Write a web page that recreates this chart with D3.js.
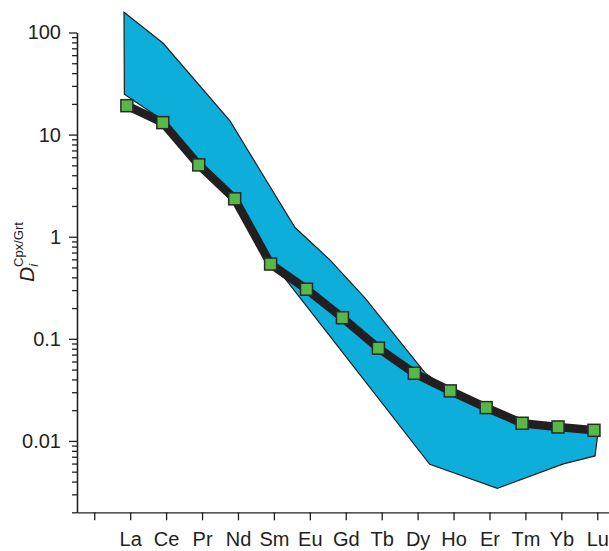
<!DOCTYPE html>
<html>
<head>
<meta charset="utf-8">
<script src="https://cdn.jsdelivr.net/npm/d3@7"></script>
<style>
  body { margin: 0; background: #fff; }
  svg { display: block; font-family: "Liberation Sans", Arial, sans-serif; }
</style>
</head>
<body>
<svg id="chart" width="609" height="551"></svg>
<script>
const elements = ["La", "Ce", "Pr", "Nd", "Sm", "Eu", "Gd", "Tb", "Dy", "Ho", "Er", "Tm", "Yb", "Lu"];
const dCpxGrt = [19.2, 13.1, 5.05, 2.35, 0.54, 0.306, 0.161, 0.081, 0.046, 0.0309, 0.0212, 0.0149, 0.0137, 0.0127];

// outline of the shaded field, clockwise from the top at La (La = 1 ... Lu = 14)
const bandPos = [0.92, 2.01, 3.87, 5.68, 6.65, 7.63, 9.16, 9.3, 10, 11, 12, 13, 14, 14.12,
                 14.03, 13.15, 11.31, 9.43, 5.04, 4, 3, 2, 0.93];
const bandVal = [158, 78.5, 13.6, 1.23, 0.593, 0.25, 0.0534, 0.0464, 0.0309, 0.0212, 0.0149, 0.0137, 0.0127, 0.0128,
                 0.00713, 0.00596, 0.00344, 0.00591, 0.566, 2.5, 5.3, 13.8, 24.9];

const majorTicks = [100, 10, 1, 0.1, 0.01];
const minorMult = [2, 3, 4, 5, 6, 7, 8, 9];

const ink = "#231f20";
const svg = d3.select("#chart");

const x = d3.scaleLinear()
    .domain([-0.48, 14.6])
    .range([77, 77 + 15.08 * 35.93]);

const y = d3.scaleLog()
    .domain([0.002, 100])
    .range([512.3, 32.5]);

// minor ticks, every 2..9 in each decade inside the domain
const minorTicks = [];
[0.001, 0.01, 0.1, 1, 10].forEach(dec => {
    minorMult.forEach(m => {
        const v = m * dec;
        if (v >= 0.002 && v < 100) minorTicks.push(v);
    });
});

// shaded field + line + squares
const marks = svg.append("g").attr("transform", "translate(-3.3,0)");

const band = bandPos.map((p, i) => [x(p), y(bandVal[i])]);
marks.append("path")
    .attr("d", "M" + band.join("L") + "Z")
    .attr("fill", "#0eaedb")
    .attr("stroke", ink)
    .attr("stroke-width", 1.2)
    .attr("stroke-linejoin", "miter");

const pts = dCpxGrt.map((v, i) => ({ pos: i + 1, v: v }));

marks.append("path")
    .datum(pts)
    .attr("d", d3.line().x(d => x(d.pos)).y(d => y(d.v)))
    .attr("fill", "none")
    .attr("stroke", ink)
    .attr("stroke-width", 8.5);

const sq = 12;
marks.selectAll("rect.pt")
    .data(pts)
    .join("rect")
    .attr("class", "pt")
    .attr("x", d => x(d.pos) - sq / 2)
    .attr("y", d => y(d.v) - sq / 2)
    .attr("width", sq)
    .attr("height", sq)
    .attr("fill", "#57b847")
    .attr("stroke", "#2a2a2a")
    .attr("stroke-width", 1.5);

// y axis
svg.append("g")
    .attr("transform", `translate(${x(-0.48)},0)`)
    .call(d3.axisLeft(y).tickValues(minorTicks).tickSize(5).tickSizeOuter(0).tickFormat(""));

svg.append("g")
    .attr("transform", `translate(${x(-0.48)},0)`)
    .call(d3.axisLeft(y).tickValues(majorTicks).tickSize(8).tickSizeOuter(0).tickPadding(8)
        .tickFormat(d => d3.format("~g")(d)));

// x axis
svg.append("g")
    .attr("transform", `translate(0,${y(0.002)})`)
    .call(d3.axisBottom(x).tickValues(d3.range(0, 15)).tickSize(8).tickSizeOuter(0).tickPadding(12)
        .tickFormat(i => i === 0 ? "" : elements[i - 1]));

svg.selectAll(".domain, .tick line")
    .attr("stroke", ink)
    .attr("stroke-width", 1.3);
svg.selectAll(".tick text")
    .attr("fill", ink)
    .style("font-size", "20px")
    .style("font-family", "'Liberation Sans', Arial, sans-serif");

// y axis title: D_i^Cpx/Grt
const title = svg.append("text")
    .attr("transform", "translate(34,282) rotate(-90)")
    .attr("fill", ink)
    .style("font-size", "21px");
title.append("tspan").style("font-style", "italic").text("D");
title.append("tspan").style("font-style", "italic").style("font-size", "13px")
    .attr("dy", 4).text("i");
title.append("tspan").style("font-size", "13px")
    .attr("dx", -3).attr("dy", -15).text("Cpx/Grt");
</script>
</body>
</html>
